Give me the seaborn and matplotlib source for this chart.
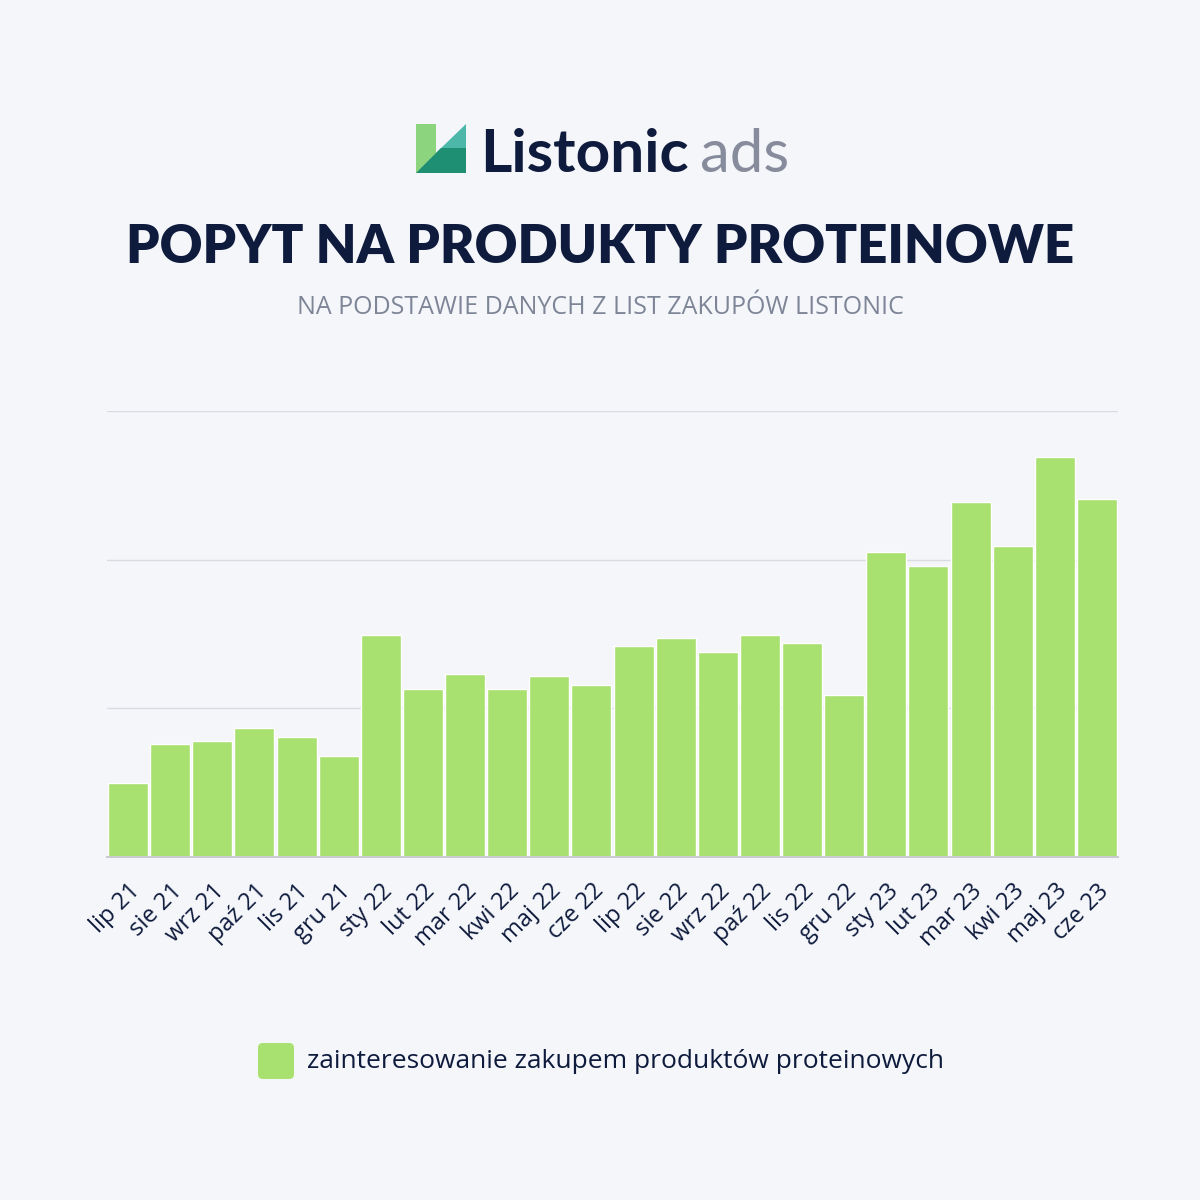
import matplotlib.pyplot as plt
import seaborn as sns
import pandas as pd
from matplotlib.patches import Polygon, FancyBboxPatch

# data (no y axis labels, gridlines at 1, 2, 3)
months = ['lip 21', 'sie 21', 'wrz 21', 'paź 21', 'lis 21', 'gru 21',
          'sty 22', 'lut 22', 'mar 22', 'kwi 22', 'maj 22', 'cze 22',
          'lip 22', 'sie 22', 'wrz 22', 'paź 22', 'lis 22', 'gru 22',
          'sty 23', 'lut 23', 'mar 23', 'kwi 23', 'maj 23', 'cze 23']
interest = [0.50, 0.76, 0.78, 0.87, 0.81, 0.68,
            1.49, 1.13, 1.23, 1.13, 1.22, 1.16,
            1.42, 1.47, 1.38, 1.49, 1.44, 1.09,
            2.05, 1.96, 2.39, 2.09, 2.69, 2.41]
series_name = 'zainteresowanie zakupem produktów proteinowych'

bg = '#F4F6FA'
navy = '#0F1B3D'
grey = '#7D8597'
bar_green = '#A8E170'
body_font = ['Open Sans', 'DejaVu Sans']

sns.set_theme(style='white')
plt.rcParams['font.family'] = ['Lato', 'DejaVu Sans']

df = pd.DataFrame({'month': months, 'value': interest})

fig = plt.figure(figsize=(12, 12), dpi=100, facecolor=bg)
W, H = 1200, 1200

def fx(px):
    return px / W

def fy(py):
    return 1 - py / H

# logo
fig.patches.append(Polygon([(fx(416), fy(124)), (fx(436), fy(124)), (fx(436), fy(173)), (fx(416), fy(173))],
                           closed=True, facecolor='#8DD47F', edgecolor='none', transform=fig.transFigure))
fig.patches.append(Polygon([(fx(436), fy(153)), (fx(466), fy(124)), (fx(466), fy(148))],
                           closed=True, facecolor='#4DB8AA', edgecolor='none', transform=fig.transFigure))
fig.patches.append(Polygon([(fx(416), fy(173)), (fx(441), fy(148)), (fx(466), fy(148)), (fx(466), fy(173))],
                           closed=True, facecolor='#1F8F74', edgecolor='none', transform=fig.transFigure))
fig.text(fx(480), fy(172), 'Listonic', fontsize=43.5, fontweight='bold', color=navy, va='baseline', ha='left')
fig.text(fx(700), fy(172), 'ads', fontsize=43, fontweight='normal', color='#868C9C', va='baseline', ha='left')

# titles
fig.text(0.5, fy(263), 'POPYT NA PRODUKTY PROTEINOWE', fontsize=38, fontweight='heavy',
         color=navy, ha='center', va='baseline')
fig.text(0.5, fy(314), 'NA PODSTAWIE DANYCH Z LIST ZAKUPÓW LISTONIC', fontsize=18,
         color=grey, ha='center', va='baseline', family=body_font)

# chart
ax = fig.add_axes([fx(107), fy(857), fx(1118) - fx(107), (857 - 411) / H])
ax.set_facecolor(bg)
sns.barplot(data=df, x='month', y='value', color=bar_green, saturation=1, width=0.95, ax=ax)
ax.set_xlim(-0.5, len(months) - 0.5)
ax.set_ylim(0, 3)
ax.set_yticks([1, 2, 3])
ax.set_yticklabels([])
ax.yaxis.grid(True, color='#DADCE1', linewidth=1)
ax.set_axisbelow(True)
for s in ['top', 'right', 'left']:
    ax.spines[s].set_visible(False)
ax.spines['bottom'].set_color('#C9CBD0')
ax.spines['bottom'].set_linewidth(1.5)
ax.set_xlabel('')
ax.set_ylabel('')
ax.tick_params(axis='x', length=0, pad=16)
ax.tick_params(axis='y', length=0)
for lab in ax.get_xticklabels():
    lab.set_rotation(45)
    lab.set_ha('right')
    lab.set_rotation_mode('anchor')
    lab.set_fontsize(17)
    lab.set_family(body_font)
    lab.set_color(navy)

# legend
fig.patches.append(FancyBboxPatch((fx(258), fy(1079)), fx(36), 36 / H,
                                  boxstyle='round,pad=0,rounding_size=0.004',
                                  facecolor=bar_green, edgecolor='none', transform=fig.transFigure))
fig.text(fx(307), fy(1061), series_name, fontsize=19, color=navy, ha='left', va='center',
         family=body_font)

fig.savefig('out.png', dpi=100, facecolor=bg)
